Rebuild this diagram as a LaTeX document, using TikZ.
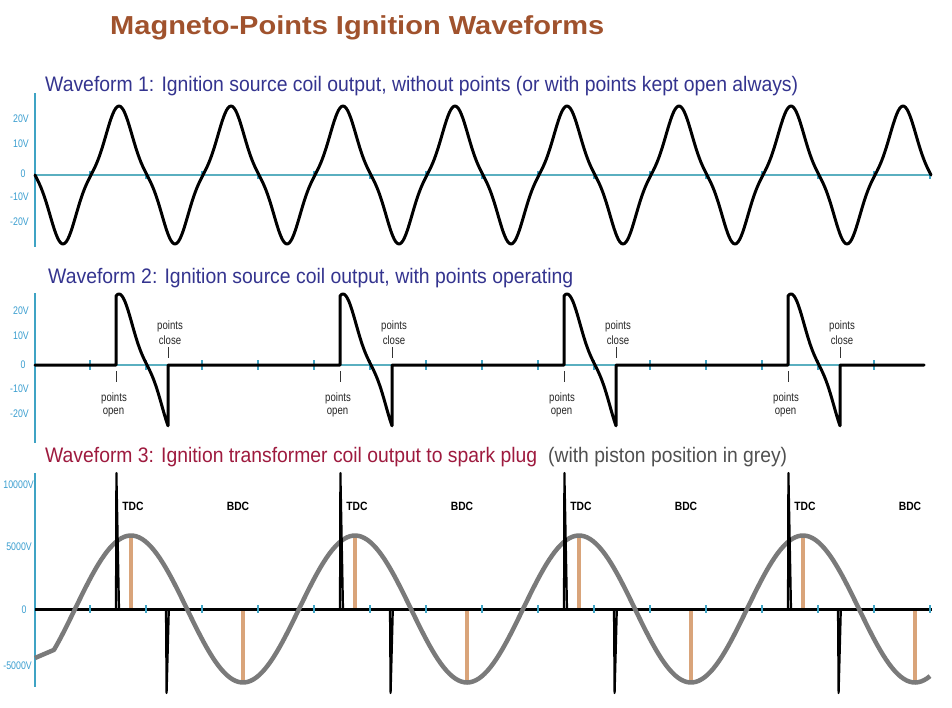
\documentclass[tikz,border=0pt]{standalone}
\usepackage{fontspec}
\setmainfont{Liberation Sans}
\usepackage{graphicx}
\definecolor{titlec}{HTML}{A0522D}
\definecolor{bluec}{HTML}{34348F}
\definecolor{redc}{HTML}{9E1A3E}
\definecolor{greyt}{HTML}{505050}
\definecolor{axisc}{HTML}{3FA3C4}
\definecolor{zeroc}{HTML}{5AAFC0}
\definecolor{labc}{HTML}{3A9ED0}
\definecolor{pistc}{HTML}{7A7A7A}
\definecolor{tanc}{HTML}{D9A47A}
\newcommand\cond[1]{\scalebox{0.8}[1]{#1}}
\newcommand\condb[1]{\scalebox{0.86}[1]{#1}}
\begin{document}
\begin{tikzpicture}[x=1pt,y=-1pt,
  declare function={g(\t)=0.5*sin(\t)+0.5*sin(\t)*sin(\t)*sin(\t);},
  wave/.style={line width=3pt, line join=round, line cap=round},
  axisline/.style={draw=axisc, line width=1.5pt},
  zeroline/.style={draw=zeroc, line width=2pt},
  tk/.style={draw=axisc, line width=1.2pt},
  vlab/.style={inner sep=0pt, text=labc, font=\fontsize{11}{13}\selectfont, anchor=east},
  head/.style={inner sep=0pt, anchor=base west, font=\fontsize{21}{25}\selectfont},
  note/.style={inner sep=0pt, anchor=base, font=\fontsize{12}{14}\selectfont, text=black!85},
  dc/.style={inner sep=0pt, font=\fontsize{12}{14}\selectfont\bfseries},
  piston/.style={draw=pistc, line width=4.5pt, line join=round},
  marker/.style={draw=tanc, line width=3.4pt},
  spike/.style={line width=2.2pt, line join=round},
  pin/.style={line width=0.9pt, draw=black!80}]
\useasboundingbox (0,0) rectangle (952,707);
\fill[white] (0,0) rectangle (952,707);

% ---------- title and headings ----------
\node[inner sep=0pt, anchor=base west, text=titlec, font=\fontsize{26}{30}\selectfont\bfseries] (title) at (110,34)
  {\resizebox{494pt}{\height}{Magneto-Points Ignition Waveforms}};
\node[head, text=bluec] (wf1) at (45,91)
  {\resizebox{753pt}{\height}{Waveform 1: Ignition source coil output, without points (or with points kept open always)}};
\node[head, text=bluec] (wf2) at (48,283)
  {\resizebox{525pt}{\height}{Waveform 2: Ignition source coil output, with points operating}};
\node[head, text=redc] (wf3) at (45,462.5)
  {\resizebox{492pt}{\height}{Waveform 3: Ignition transformer coil output to spark plug}};
\node[head, text=greyt] (wf3b) at (548,462.5)
  {\resizebox{239pt}{\height}{(with piston position in grey)}};

% ---------- waveform 1 ----------
\draw[axisline] (35,93) -- (35,247);
\draw[zeroline] (35,175) -- (931,175);
\foreach \k in {1,...,16} \draw[tk] (34+56*\k,171) -- (34+56*\k,179);
\draw[wave] plot[domain=35:931, samples=600] (\x,{175+69*g((\x-35)/112*360)});
\node[vlab] (a1) at (29,118.5) {\cond{20V}};
\node[vlab] (a2) at (29,143.5) {\cond{10V}};
\node[vlab, anchor=center] (a3) at (23,174) {\cond{0}};
\node[vlab] (a4) at (29,196.5) {\cond{-10V}};
\node[vlab] (a5) at (29,222) {\cond{-20V}};

% ---------- waveform 2 ----------
\draw[axisline] (35,293) -- (35,443);
\draw[draw=zeroc, line width=1.2pt] (35,365) -- (924,365);
\foreach \k in {1,...,15} \draw[tk] (34+56*\k,360) -- (34+56*\k,370);
\draw[wave] (35,365) -- (116,365)
  -- plot[domain=116:168, samples=60] (\x,{365+71*g((\x-35)/112*360)}) -- (168,365) -- (340,365)
  -- plot[domain=340:392, samples=60] (\x,{365+71*g((\x-35)/112*360)}) -- (392,365) -- (564,365)
  -- plot[domain=564:616, samples=60] (\x,{365+71*g((\x-35)/112*360)}) -- (616,365) -- (788,365)
  -- plot[domain=788:840, samples=60] (\x,{365+71*g((\x-35)/112*360)}) -- (840,365) -- (924,365);
\node[vlab] (b1) at (29,310.5) {\cond{20V}};
\node[vlab] (b2) at (29,335.5) {\cond{10V}};
\node[vlab, anchor=center] (b3) at (23,365) {\cond{0}};
\node[vlab] (b4) at (29,388.5) {\cond{-10V}};
\node[vlab] (b5) at (29,413.5) {\cond{-20V}};
\foreach \o [count=\i] in {0,224,448,672} {
  \node[note] (pcA\i) at (170+\o,329.5) {\cond{points}};
  \node[note] (pcB\i) at (170+\o,344) {\cond{close}};
  \coordinate (pcT\i) at (168+\o,347);
  \coordinate (pcS\i) at (168+\o,358);
  \draw[pin] (pcT\i) -- (pcS\i);
  \node[note] (poA\i) at (114+\o,401) {\cond{points}};
  \node[note] (poB\i) at (113.5+\o,414) {\cond{open}};
  \coordinate (poT\i) at (116+\o,371);
  \coordinate (poS\i) at (116+\o,382);
  \draw[pin] (poT\i) -- (poS\i);
}

% ---------- waveform 3 ----------
\draw[axisline] (35,473) -- (35,687);
\foreach \o in {0,224,448,672} {
  \draw[marker] (131+\o,536) -- (131+\o,609);
  \draw[marker] (243+\o,609) -- (243+\o,682);
}
\draw[wave, line cap=butt] (35,609) -- (932,609);
\draw[piston] (35,658) -- plot[domain=54:930, samples=300] (\x,{609-73.5*cos((\x-131)/224*360)});
\foreach \o in {0,224,448,672} {
  \draw[spike] (116+\o,609) -- (116.4+\o,473) -- (119+\o,609);
  \draw[spike] (166+\o,609) -- (166.6+\o,693) -- (168.8+\o,610);
}
\foreach \k in {1,...,16} \draw[tk] (34+56*\k,605) -- (34+56*\k,613);
\foreach \o [count=\i] in {0,224,448,672} {
  \node[dc] (tdc\i) at (133+\o,506) {\condb{TDC}};
  \node[dc] (bdc\i) at (238+\o,506) {\condb{BDC}};
}
\node[vlab] (c1) at (34,484.5) {\cond{10000V}};
\node[vlab] (c2) at (32,547) {\cond{5000V}};
\node[vlab, anchor=center] (c3) at (24,609.5) {\cond{0}};
\node[vlab] (c4) at (32,666) {\cond{-5000V}};
\end{tikzpicture}
\end{document}
